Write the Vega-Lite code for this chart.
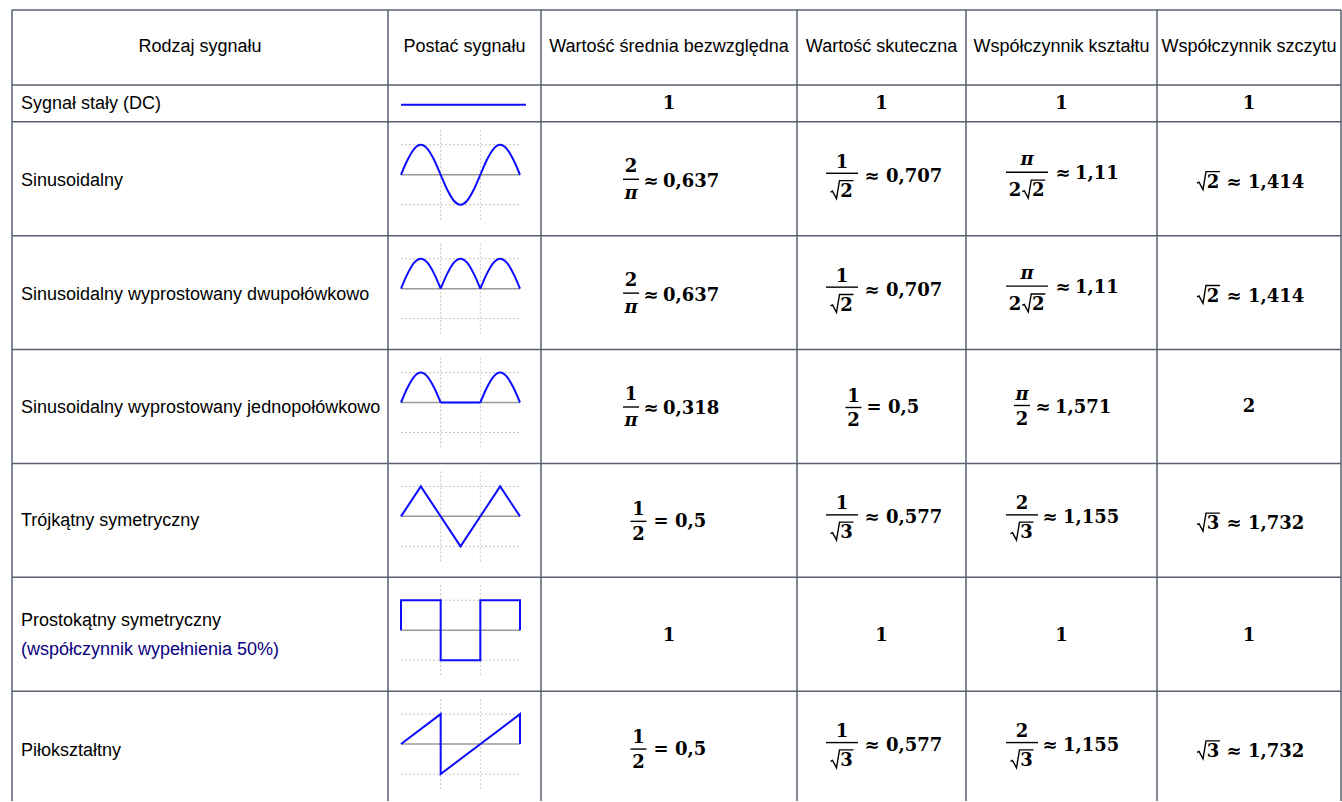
{
"$schema":"https://vega.github.io/schema/vega-lite/v6.json",
"width":1342,"height":802,
"autosize":{"type":"fit","contains":"padding"},
"padding":0,
"background":"white",
"config":{"view":{"stroke":null}},
"layer":[
{"data":{"values":[
{"x":12,"x2":1341,"y":10,"y2":10},{"x":12,"x2":1341,"y":85,"y2":85},{"x":12,"x2":1341,"y":122,"y2":122},{"x":12,"x2":1341,"y":236,"y2":236},{"x":12,"x2":1341,"y":350,"y2":350},{"x":12,"x2":1341,"y":464,"y2":464},{"x":12,"x2":1341,"y":578,"y2":578},{"x":12,"x2":1341,"y":692,"y2":692},
{"x":12,"x2":12,"y":10,"y2":802},{"x":388,"x2":388,"y":10,"y2":802},{"x":541,"x2":541,"y":10,"y2":802},{"x":797,"x2":797,"y":10,"y2":802},{"x":966,"x2":966,"y":10,"y2":802},{"x":1157,"x2":1157,"y":10,"y2":802},{"x":1341,"x2":1341,"y":10,"y2":802}
]},
"mark":{"type":"rule","color":"#56606f","strokeWidth":1.5},
"encoding":{"x":{"field":"x","type":"quantitative","scale":{"domain":[0,1342],"nice":false,"zero":false},"axis":null},"x2":{"field":"x2"},"y":{"field":"y","type":"quantitative","scale":{"domain":[0,802],"reverse":true,"nice":false,"zero":false},"axis":null},"y2":{"field":"y2"}}},
{"data":{"values":[
{"x":401,"x2":520,"y":145,"y2":145},{"x":401,"x2":520,"y":205,"y2":205},{"x":440.67,"x2":440.67,"y":130,"y2":220},{"x":480.33,"x2":480.33,"y":130,"y2":220},
{"x":401,"x2":520,"y":259,"y2":259},{"x":401,"x2":520,"y":319,"y2":319},{"x":440.67,"x2":440.67,"y":244,"y2":334},{"x":480.33,"x2":480.33,"y":244,"y2":334},
{"x":401,"x2":520,"y":373,"y2":373},{"x":401,"x2":520,"y":433,"y2":433},{"x":440.67,"x2":440.67,"y":358,"y2":448},{"x":480.33,"x2":480.33,"y":358,"y2":448},
{"x":401,"x2":520,"y":487,"y2":487},{"x":401,"x2":520,"y":547,"y2":547},{"x":440.67,"x2":440.67,"y":472,"y2":562},{"x":480.33,"x2":480.33,"y":472,"y2":562},
{"x":401,"x2":520,"y":601,"y2":601},{"x":401,"x2":520,"y":661,"y2":661},{"x":440.67,"x2":440.67,"y":586,"y2":676},{"x":480.33,"x2":480.33,"y":586,"y2":676},
{"x":401,"x2":520,"y":715,"y2":715},{"x":401,"x2":520,"y":775,"y2":775},{"x":440.67,"x2":440.67,"y":700,"y2":790},{"x":480.33,"x2":480.33,"y":700,"y2":790}
]},
"mark":{"type":"rule","color":"#c4c4c4","strokeWidth":1,"strokeDash":[2,2]},
"encoding":{"x":{"field":"x","type":"quantitative"},"x2":{"field":"x2"},"y":{"field":"y","type":"quantitative"},"y2":{"field":"y2"}}},
{"data":{"values":[
{"x":401,"x2":520,"y":175},{"x":401,"x2":520,"y":289},{"x":401,"x2":520,"y":403},{"x":401,"x2":520,"y":517},{"x":401,"x2":520,"y":631},{"x":401,"x2":520,"y":745}
]},
"mark":{"type":"rule","color":"#9a9a9a","strokeWidth":1.5},
"encoding":{"x":{"field":"x","type":"quantitative"},"x2":{"field":"x2"},"y":{"field":"y","type":"quantitative"}}},
{"data":{"values":[
{"id":"sin","i":0,"x":401,"y":175},{"id":"sin","i":1,"x":407.61,"y":160},{"id":"sin","i":2,"x":414.22,"y":149.02},{"id":"sin","i":3,"x":420.83,"y":145},{"id":"sin","i":4,"x":427.44,"y":149.02},{"id":"sin","i":5,"x":434.06,"y":160},{"id":"sin","i":6,"x":440.67,"y":175},{"id":"sin","i":7,"x":447.28,"y":190},{"id":"sin","i":8,"x":453.89,"y":200.98},{"id":"sin","i":9,"x":460.5,"y":205},{"id":"sin","i":10,"x":467.11,"y":200.98},{"id":"sin","i":11,"x":473.72,"y":190},{"id":"sin","i":12,"x":480.33,"y":175},{"id":"sin","i":13,"x":486.94,"y":160},{"id":"sin","i":14,"x":493.56,"y":149.02},{"id":"sin","i":15,"x":500.17,"y":145},{"id":"sin","i":16,"x":506.78,"y":149.02},{"id":"sin","i":17,"x":513.39,"y":160},{"id":"sin","i":18,"x":520,"y":175},
{"id":"fr1","i":0,"x":401,"y":289},{"id":"fr1","i":1,"x":407.61,"y":274},{"id":"fr1","i":2,"x":414.22,"y":263.02},{"id":"fr1","i":3,"x":420.83,"y":259},{"id":"fr1","i":4,"x":427.44,"y":263.02},{"id":"fr1","i":5,"x":434.06,"y":274},{"id":"fr1","i":6,"x":440.67,"y":289},
{"id":"fr2","i":0,"x":440.67,"y":289},{"id":"fr2","i":1,"x":447.28,"y":274},{"id":"fr2","i":2,"x":453.89,"y":263.02},{"id":"fr2","i":3,"x":460.5,"y":259},{"id":"fr2","i":4,"x":467.11,"y":263.02},{"id":"fr2","i":5,"x":473.72,"y":274},{"id":"fr2","i":6,"x":480.33,"y":289},
{"id":"fr3","i":0,"x":480.33,"y":289},{"id":"fr3","i":1,"x":486.94,"y":274},{"id":"fr3","i":2,"x":493.56,"y":263.02},{"id":"fr3","i":3,"x":500.17,"y":259},{"id":"fr3","i":4,"x":506.78,"y":263.02},{"id":"fr3","i":5,"x":513.39,"y":274},{"id":"fr3","i":6,"x":520,"y":289},
{"id":"hr1","i":0,"x":401,"y":403},{"id":"hr1","i":1,"x":407.61,"y":388},{"id":"hr1","i":2,"x":414.22,"y":377.02},{"id":"hr1","i":3,"x":420.83,"y":373},{"id":"hr1","i":4,"x":427.44,"y":377.02},{"id":"hr1","i":5,"x":434.06,"y":388},{"id":"hr1","i":6,"x":440.67,"y":403},
{"id":"hr3","i":0,"x":480.33,"y":403},{"id":"hr3","i":1,"x":486.94,"y":388},{"id":"hr3","i":2,"x":493.56,"y":377.02},{"id":"hr3","i":3,"x":500.17,"y":373},{"id":"hr3","i":4,"x":506.78,"y":377.02},{"id":"hr3","i":5,"x":513.39,"y":388},{"id":"hr3","i":6,"x":520,"y":403}
]},
"mark":{"type":"line","interpolate":"monotone","color":"#0c0cff","strokeWidth":2},
"encoding":{"x":{"field":"x","type":"quantitative"},"y":{"field":"y","type":"quantitative"},"detail":{"field":"id"},"order":{"field":"i"}}},
{"data":{"values":[
{"id":"dc","i":0,"x":401,"y":105},{"id":"dc","i":1,"x":526,"y":105},
{"id":"hrf","i":0,"x":440.67,"y":403},{"id":"hrf","i":1,"x":480.33,"y":403},
{"id":"tri","i":0,"x":401,"y":517},{"id":"tri","i":1,"x":420.83,"y":487},{"id":"tri","i":2,"x":460.5,"y":547},{"id":"tri","i":3,"x":500.17,"y":487},{"id":"tri","i":4,"x":520,"y":517},
{"id":"sq","i":0,"x":401,"y":631},{"id":"sq","i":1,"x":401,"y":601},{"id":"sq","i":2,"x":440.67,"y":601},{"id":"sq","i":3,"x":440.67,"y":661},{"id":"sq","i":4,"x":480.33,"y":661},{"id":"sq","i":5,"x":480.33,"y":601},{"id":"sq","i":6,"x":520,"y":601},{"id":"sq","i":7,"x":520,"y":631},
{"id":"saw","i":0,"x":401,"y":745},{"id":"saw","i":1,"x":440.67,"y":715},{"id":"saw","i":2,"x":440.67,"y":775},{"id":"saw","i":3,"x":520,"y":715},{"id":"saw","i":4,"x":520,"y":745}
]},
"mark":{"type":"line","color":"#0c0cff","strokeWidth":2},
"encoding":{"x":{"field":"x","type":"quantitative"},"y":{"field":"y","type":"quantitative"},"detail":{"field":"id"},"order":{"field":"i"}}},
{"data":{"values":[
{"x":200,"y":47,"t":"Rodzaj sygnału"},{"x":464.5,"y":47,"t":"Postać sygnału"},{"x":669,"y":47,"t":"Wartość średnia bezwzględna"},{"x":881.5,"y":47,"t":"Wartość skuteczna"},{"x":1061.5,"y":47,"t":"Współczynnik kształtu"},{"x":1249,"y":47,"t":"Współczynnik szczytu"}
]},
"mark":{"type":"text","font":"Liberation Sans","fontSize":18,"align":"center","baseline":"middle","color":"#000000"},
"encoding":{"x":{"field":"x","type":"quantitative"},"y":{"field":"y","type":"quantitative"},"text":{"field":"t"}}},
{"data":{"values":[
{"x":21,"y":104,"t":"Sygnał stały (DC)"},{"x":21,"y":181,"t":"Sinusoidalny"},{"x":21,"y":295,"t":"Sinusoidalny wyprostowany dwupołówkowo"},{"x":21,"y":409,"t":"Sinusoidalny wyprostowany jednopołówkowo"},{"x":21,"y":522,"t":"Trójkątny symetryczny"},{"x":21,"y":622,"t":"Prostokątny symetryczny"},{"x":21,"y":752,"t":"Piłokształtny"}
]},
"mark":{"type":"text","font":"Liberation Sans","fontSize":18,"align":"left","baseline":"middle","color":"#000000"},
"encoding":{"x":{"field":"x","type":"quantitative"},"y":{"field":"y","type":"quantitative"},"text":{"field":"t"}}},
{"data":{"values":[{"x":21,"y":651,"t":"(współczynnik wypełnienia 50%)"}]},
"mark":{"type":"text","font":"Liberation Sans","fontSize":18,"align":"left","baseline":"middle","color":"#0b0080"},
"encoding":{"x":{"field":"x","type":"quantitative"},"y":{"field":"y","type":"quantitative"},"text":{"field":"t"}}},
{"data":{"values":[
{"x":669,"y":104,"t":"1"},{"x":881.5,"y":104,"t":"1"},{"x":1061.5,"y":104,"t":"1"},{"x":1249,"y":104,"t":"1"},
{"x":631,"y":167,"t":"2"},{"x":651,"y":182,"t":"≈"},{"x":842,"y":163,"t":"1"},{"x":846.5,"y":192,"t":"2"},{"x":872,"y":177,"t":"≈"},{"x":1015,"y":191.5,"t":"2"},{"x":1038.25,"y":191.5,"t":"2"},{"x":1063,"y":174.5,"t":"≈"},{"x":1213,"y":183,"t":"2"},{"x":1234,"y":183,"t":"≈"},
{"x":631,"y":281,"t":"2"},{"x":651,"y":296,"t":"≈"},{"x":842,"y":277,"t":"1"},{"x":846.5,"y":306,"t":"2"},{"x":872,"y":291,"t":"≈"},{"x":1015,"y":305.5,"t":"2"},{"x":1038.25,"y":305.5,"t":"2"},{"x":1063,"y":288.5,"t":"≈"},{"x":1213,"y":297,"t":"2"},{"x":1234,"y":297,"t":"≈"},
{"x":631,"y":395,"t":"1"},{"x":651,"y":410,"t":"≈"},{"x":853.5,"y":397,"t":"1"},{"x":853.5,"y":422,"t":"2"},{"x":874,"y":409,"t":"="},{"x":1022,"y":421,"t":"2"},{"x":1043,"y":409,"t":"≈"},{"x":1249,"y":408,"t":"2"},
{"x":638.5,"y":511,"t":"1"},{"x":638.5,"y":536,"t":"2"},{"x":661,"y":523,"t":"="},{"x":842,"y":505,"t":"1"},{"x":846.5,"y":534,"t":"3"},{"x":872,"y":519,"t":"≈"},{"x":1022,"y":505,"t":"2"},{"x":1026.5,"y":534,"t":"3"},{"x":1050,"y":519,"t":"≈"},{"x":1213,"y":525,"t":"3"},{"x":1234,"y":525,"t":"≈"},
{"x":669,"y":637,"t":"1"},{"x":881.5,"y":637,"t":"1"},{"x":1061.5,"y":637,"t":"1"},{"x":1249,"y":637,"t":"1"},
{"x":638.5,"y":739,"t":"1"},{"x":638.5,"y":764,"t":"2"},{"x":661,"y":751,"t":"="},{"x":842,"y":733,"t":"1"},{"x":846.5,"y":762,"t":"3"},{"x":872,"y":747,"t":"≈"},{"x":1022,"y":733,"t":"2"},{"x":1026.5,"y":762,"t":"3"},{"x":1050,"y":747,"t":"≈"},{"x":1213,"y":753,"t":"3"},{"x":1234,"y":753,"t":"≈"}
]},
"mark":{"type":"text","font":"DejaVu Serif","fontWeight":"bold","fontSize":18,"align":"center","baseline":"middle","color":"#000000"},
"encoding":{"x":{"field":"x","type":"quantitative"},"y":{"field":"y","type":"quantitative"},"text":{"field":"t"}}},
{"data":{"values":[
{"x":631,"y":194,"t":"π"},{"x":1027,"y":160,"t":"π"},{"x":631,"y":308,"t":"π"},{"x":1027,"y":274,"t":"π"},{"x":631,"y":422,"t":"π"},{"x":1022,"y":395,"t":"π"}
]},
"mark":{"type":"text","font":"DejaVu Serif","fontWeight":"bold","fontStyle":"italic","fontSize":18,"align":"center","baseline":"middle","color":"#000000"},
"encoding":{"x":{"field":"x","type":"quantitative"},"y":{"field":"y","type":"quantitative"},"text":{"field":"t"}}},
{"data":{"values":[
{"x":663,"y":182,"t":"0,637"},{"x":886,"y":177,"t":"0,707"},{"x":1075,"y":174.5,"t":"1,11"},{"x":1248,"y":183,"t":"1,414"},
{"x":663,"y":296,"t":"0,637"},{"x":886,"y":291,"t":"0,707"},{"x":1075,"y":288.5,"t":"1,11"},{"x":1248,"y":297,"t":"1,414"},
{"x":663,"y":410,"t":"0,318"},{"x":888,"y":409,"t":"0,5"},{"x":1055,"y":409,"t":"1,571"},
{"x":675,"y":523,"t":"0,5"},{"x":886,"y":519,"t":"0,577"},{"x":1063,"y":519,"t":"1,155"},{"x":1248,"y":525,"t":"1,732"},
{"x":675,"y":751,"t":"0,5"},{"x":886,"y":747,"t":"0,577"},{"x":1063,"y":747,"t":"1,155"},{"x":1248,"y":753,"t":"1,732"}
]},
"mark":{"type":"text","font":"DejaVu Serif","fontWeight":"bold","fontSize":18,"align":"left","baseline":"middle","color":"#000000"},
"encoding":{"x":{"field":"x","type":"quantitative"},"y":{"field":"y","type":"quantitative"},"text":{"field":"t"}}},
{"data":{"values":[
{"x":623,"x2":639,"y":179.5},{"x":826,"x2":858,"y":173.5},{"x":1006,"x2":1048,"y":172.5},
{"x":623,"x2":639,"y":293.5},{"x":826,"x2":858,"y":287.5},{"x":1006,"x2":1048,"y":286.5},
{"x":623,"x2":639,"y":407.5},{"x":845.5,"x2":861.5,"y":408},{"x":1014,"x2":1030,"y":406},
{"x":630.5,"x2":646.5,"y":522},{"x":826,"x2":858,"y":515.5},{"x":1006,"x2":1038,"y":515.5},
{"x":630.5,"x2":646.5,"y":750},{"x":826,"x2":858,"y":743.5},{"x":1006,"x2":1038,"y":743.5}
]},
"mark":{"type":"rule","color":"#000000","strokeWidth":1.4},
"encoding":{"x":{"field":"x","type":"quantitative"},"x2":{"field":"x2"},"y":{"field":"y","type":"quantitative"}}},
{"data":{"values":[
{"id":"s1","i":0,"x":830.5,"y":192.3},{"id":"s1","i":1,"x":832.5,"y":191.3},{"id":"s1","i":2,"x":836.5,"y":198.8},{"id":"s1","i":3,"x":839.5,"y":180.8},{"id":"s1","i":4,"x":853.5,"y":180.8},
{"id":"s2","i":0,"x":1022.25,"y":191.8},{"id":"s2","i":1,"x":1024.25,"y":190.8},{"id":"s2","i":2,"x":1028.25,"y":198.3},{"id":"s2","i":3,"x":1031.25,"y":180.3},{"id":"s2","i":4,"x":1045.25,"y":180.3},
{"id":"s3","i":0,"x":1197,"y":183.3},{"id":"s3","i":1,"x":1199,"y":182.3},{"id":"s3","i":2,"x":1203,"y":189.8},{"id":"s3","i":3,"x":1206,"y":171.8},{"id":"s3","i":4,"x":1220,"y":171.8},
{"id":"s4","i":0,"x":830.5,"y":306.3},{"id":"s4","i":1,"x":832.5,"y":305.3},{"id":"s4","i":2,"x":836.5,"y":312.8},{"id":"s4","i":3,"x":839.5,"y":294.8},{"id":"s4","i":4,"x":853.5,"y":294.8},
{"id":"s5","i":0,"x":1022.25,"y":305.8},{"id":"s5","i":1,"x":1024.25,"y":304.8},{"id":"s5","i":2,"x":1028.25,"y":312.3},{"id":"s5","i":3,"x":1031.25,"y":294.3},{"id":"s5","i":4,"x":1045.25,"y":294.3},
{"id":"s6","i":0,"x":1197,"y":297.3},{"id":"s6","i":1,"x":1199,"y":296.3},{"id":"s6","i":2,"x":1203,"y":303.8},{"id":"s6","i":3,"x":1206,"y":285.8},{"id":"s6","i":4,"x":1220,"y":285.8},
{"id":"s7","i":0,"x":830.5,"y":534.3},{"id":"s7","i":1,"x":832.5,"y":533.3},{"id":"s7","i":2,"x":836.5,"y":540.8},{"id":"s7","i":3,"x":839.5,"y":522.8},{"id":"s7","i":4,"x":853.5,"y":522.8},
{"id":"s8","i":0,"x":1010.5,"y":534.3},{"id":"s8","i":1,"x":1012.5,"y":533.3},{"id":"s8","i":2,"x":1016.5,"y":540.8},{"id":"s8","i":3,"x":1019.5,"y":522.8},{"id":"s8","i":4,"x":1033.5,"y":522.8},
{"id":"s9","i":0,"x":1197,"y":525.3},{"id":"s9","i":1,"x":1199,"y":524.3},{"id":"s9","i":2,"x":1203,"y":531.8},{"id":"s9","i":3,"x":1206,"y":513.8},{"id":"s9","i":4,"x":1220,"y":513.8},
{"id":"s10","i":0,"x":830.5,"y":762.3},{"id":"s10","i":1,"x":832.5,"y":761.3},{"id":"s10","i":2,"x":836.5,"y":768.8},{"id":"s10","i":3,"x":839.5,"y":750.8},{"id":"s10","i":4,"x":853.5,"y":750.8},
{"id":"s11","i":0,"x":1010.5,"y":762.3},{"id":"s11","i":1,"x":1012.5,"y":761.3},{"id":"s11","i":2,"x":1016.5,"y":768.8},{"id":"s11","i":3,"x":1019.5,"y":750.8},{"id":"s11","i":4,"x":1033.5,"y":750.8},
{"id":"s12","i":0,"x":1197,"y":753.3},{"id":"s12","i":1,"x":1199,"y":752.3},{"id":"s12","i":2,"x":1203,"y":759.8},{"id":"s12","i":3,"x":1206,"y":741.8},{"id":"s12","i":4,"x":1220,"y":741.8}
]},
"mark":{"type":"line","color":"#000000","strokeWidth":1.4},
"encoding":{"x":{"field":"x","type":"quantitative"},"y":{"field":"y","type":"quantitative"},"detail":{"field":"id"},"order":{"field":"i"}}}
]
}
